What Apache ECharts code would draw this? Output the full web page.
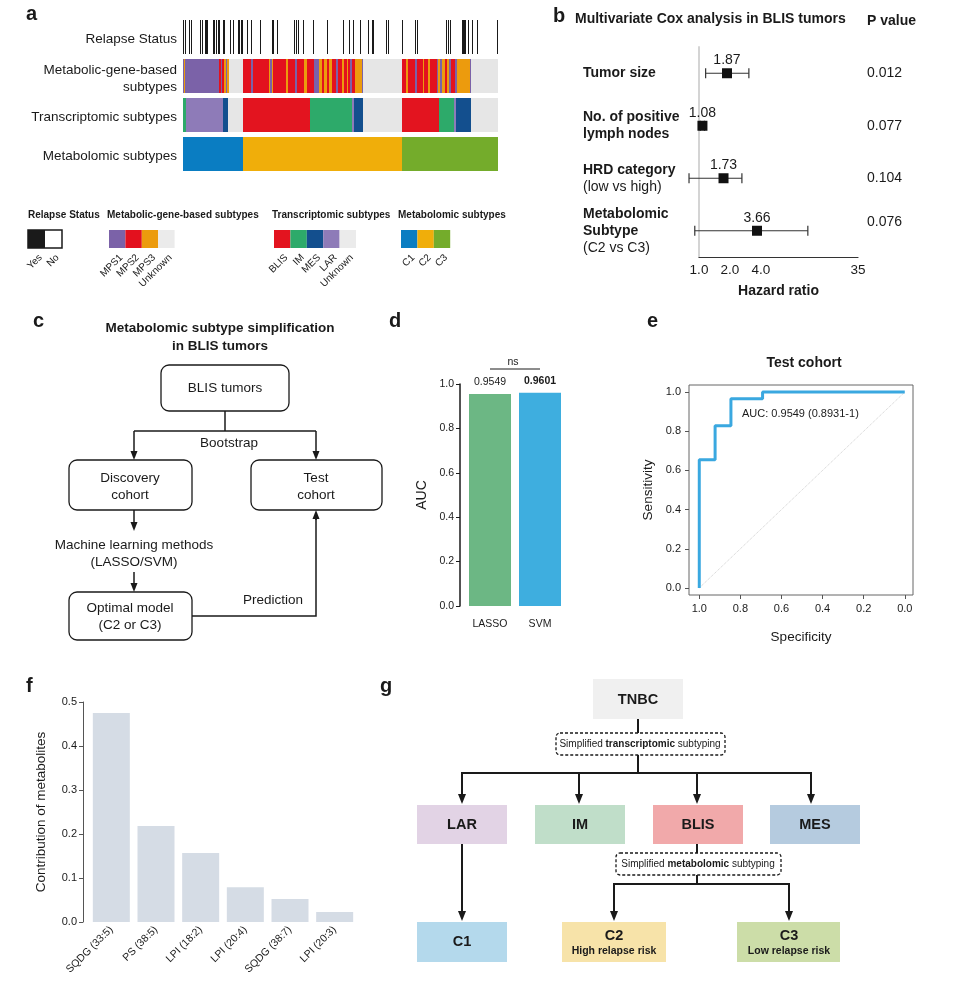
<!DOCTYPE html>
<html><head><meta charset="utf-8">
<script src="https://cdn.jsdelivr.net/npm/echarts@6/dist/echarts.min.js"></script>
<style>html,body{margin:0;padding:0;background:#fff}#c{width:956px;height:984px}</style>
</head><body><div id="c"></div>
<script>
// ================= DATA =================
// Panel a: samples ordered along x (approx. one unit per sample column)
const sampleCount = 315;
const heatRows = ['Relapse Status', 'Metabolic-gene-based\nsubtypes', 'Transcriptomic subtypes', 'Metabolomic subtypes'];
const relapseYes = [0,2,6,8,17,19,22,23,24,30,31,33,35,36,40,41,47,50,55,56,58,59,64,68,77,89,90,94,111,113,115,120,130,144,160,166,170,177,185,189,190,203,205,219,232,234,263,265,267,279,280,281,282,285,289,294,314];
const mgbRuns = [['MPS1',1],['MPS3',1],['MPS1',34],['MPS2',2],['MPS1',1],['MPS2',2],['MPS3',2],['MPS1',1],['MPS3',2],['Unknown',14],
  ['MPS2',8],['MPS1',2],['MPS2',16],['MPS3',1],['MPS1',2],['MPS3',1],['MPS2',13],['MPS3',2],['MPS2',7],['MPS1',2],['MPS2',7],['MPS3',3],['MPS2',7],['MPS1',5],['MPS3',3],['MPS2',2],['MPS3',3],['MPS2',2],['MPS3',3],['MPS2',4],['MPS1',2],['MPS2',4],['MPS3',2],['MPS2',3],['MPS3',1],['MPS2',2],['MPS1',2],['MPS2',3],['MPS3',7],['MPS1',1],['Unknown',39],
  ['MPS2',4],['MPS3',2],['MPS2',7],['MPS1',2],['MPS2',6],['MPS3',1],['MPS2',4],['MPS3',2],['MPS2',7],['MPS1',1],['MPS3',2],['MPS1',2],['MPS3',3],['MPS2',2],['MPS3',2],['MPS1',2],['MPS2',4],['MPS1',2],['MPS3',13],['MPS1',1],['Unknown',27]];
const transRuns = [['IM',3],['LAR',37],['MES',5],['Unknown',15],['BLIS',67],['IM',42],['LAR',2],['MES',9],['Unknown',39],['BLIS',37],['IM',15],['LAR',2],['MES',15],['Unknown',27]];
const metaRuns = [['C1',60],['C2',159],['C3',96]];
const legendGroups = [
  {title:'Relapse Status', keys:['Yes','No']},
  {title:'Metabolic-gene-based subtypes', keys:['MPS1','MPS2','MPS3','Unknown']},
  {title:'Transcriptomic subtypes', keys:['BLIS','IM','MES','LAR','Unknown']},
  {title:'Metabolomic subtypes', keys:['C1','C2','C3']}
];
// Panel b: multivariate Cox
const coxFactors = ['Tumor size', 'No. of positive\nlymph nodes', 'HRD category\n(low vs high)', 'Metabolomic\nSubtype\n(C2 vs C3)'];
const coxHR = [1.87, 1.08, 1.73, 3.66];
const coxLow = [1.16, 1.03, 0.80, 0.91];
const coxHigh = [3.05, 1.13, 2.61, 11.4];
const coxP = ['0.012', '0.077', '0.104', '0.076'];
const hrTicks = [1, 2, 4, 35];
// Panel d: AUC
const aucModels = ['LASSO', 'SVM'];
const aucValues = [0.9549, 0.9601];
// Panel e: ROC (test cohort)
const rocSpec = [1, 1, 0.923, 0.923, 0.846, 0.846, 0.692, 0.692, 0];
const rocSens = [0, 0.655, 0.655, 0.828, 0.828, 0.966, 0.966, 1, 1];
const rocTicks = [0, 0.2, 0.4, 0.6, 0.8, 1.0];
// Panel f: metabolite contributions
const metabolites = ['SQDG (33:5)', 'PS (38:5)', 'LPI (18:2)', 'LPI (20:4)', 'SQDG (38:7)', 'LPI (20:3)'];
const contrib = [0.475, 0.218, 0.157, 0.079, 0.052, 0.023];

// ================= STYLE =================
const FONT = '"Liberation Sans", Arial, Helvetica, sans-serif';
const INK = '#1a1a1a';
const COLORS = {Yes:'#1a1a1a', No:'#ffffff', MPS1:'#7B62A8', MPS2:'#E3111E', MPS3:'#EC9B0D', Unknown:'#E6E6E6',
  BLIS:'#E3141F', IM:'#2DAA6A', MES:'#134F8E', LAR:'#8E7BB8', C1:'#0A7DC2', C2:'#F0AE0A', C3:'#74AC2B'};

// ================= GRAPHIC HELPERS =================
const G = [];
function T(x, y, text, size, weight, align, extra, rot) {
  const el = {type:'text', x, y, z:20, style:Object.assign({text, fill:INK, fontSize:size, fontWeight:weight||'normal', fontFamily:FONT,
    align:align||'center', verticalAlign:'middle', textAlign:align||'center', textVerticalAlign:'middle'}, extra||{})};
  if (rot) el.rotation = rot;
  G.push(el);
}
function R(x, y, w, h, fill, stroke, lw, r, dash) {
  G.push({type:'rect', z:15, shape:{x, y, width:w, height:h, r:r||0}, style:{fill:fill||'none', stroke:stroke||null, lineWidth:lw||0, lineDash:dash||null}});
}
function L(points, lw) {
  G.push({type:'polyline', z:16, shape:{points}, style:{stroke:INK, lineWidth:lw||1.5, fill:null}});
}
function arrowV(x, y1, y2, lw, hw, hh) { // vertical arrow from y1 to y2 (head at y2)
  const dir = y2 > y1 ? 1 : -1;
  L([[x, y1], [x, y2 - dir*hh]], lw);
  G.push({type:'polygon', z:16, shape:{points:[[x-hw/2, y2-dir*hh],[x+hw/2, y2-dir*hh],[x, y2]]}, style:{fill:INK}});
}

// Panel letters
T(26, 14, 'a', 20, 'bold', 'left');
T(553, 16, 'b', 20, 'bold', 'left');
T(33, 321, 'c', 20, 'bold', 'left');
T(389, 321, 'd', 20, 'bold', 'left');
T(647, 321, 'e', 20, 'bold', 'left');
T(26, 686, 'f', 20, 'bold', 'left');
T(380, 686, 'g', 20, 'bold', 'left');

// Panel a legend
const legX = [28, 107, 272, 398];
const swX = [28, 109, 274, 401];
legendGroups.forEach((g, gi) => {
  T(legX[gi], 215, g.title, 10, 'bold', 'left');
  const w = gi === 0 ? 17 : 16.4;
  g.keys.forEach((k, i) => {
    const x = swX[gi] + i*w;
    R(x, 230, w, 18, COLORS[k] === '#E6E6E6' ? '#EBEBEB' : COLORS[k]);
    T(x + w/2 + 4, 256, k, 10, 'normal', 'right', null, Math.PI/4);
  });
  if (gi === 0) R(28, 230, 34, 18, 'none', INK, 1.5);
});

// Panel b texts
T(575, 19, 'Multivariate Cox analysis in BLIS tumors', 14, 'bold', 'left');
T(867, 21, 'P value', 14, 'bold', 'left');

// Panel c flowchart
T(220, 328, 'Metabolomic subtype simplification', 13.5, 'bold');
T(220, 346, 'in BLIS tumors', 13.5, 'bold');
R(161, 365, 128, 46, '#fff', INK, 1.3, 8); T(225, 388, 'BLIS tumors', 13.5);
L([[225, 411], [225, 431]]); L([[134, 431], [316, 431]]);
arrowV(134, 431, 460, 1.5, 7, 9); arrowV(316, 431, 460, 1.5, 7, 9);
T(229, 443, 'Bootstrap', 13.5);
R(69, 460, 123, 50, '#fff', INK, 1.3, 8); T(130, 478, 'Discovery', 13.5); T(130, 495, 'cohort', 13.5);
R(251, 460, 131, 50, '#fff', INK, 1.3, 8); T(316, 478, 'Test', 13.5); T(316, 495, 'cohort', 13.5);
arrowV(134, 510, 531, 1.5, 7, 9);
T(134, 545, 'Machine learning methods', 13.5); T(134, 562, '(LASSO/SVM)', 13.5);
arrowV(134, 572, 592, 1.5, 7, 9);
R(69, 592, 123, 48, '#fff', INK, 1.3, 8); T(130, 608, 'Optimal model', 13.5); T(130, 625, '(C2 or C3)', 13.5);
L([[192, 616], [316, 616], [316, 519]]);
arrowV(316, 520, 510, 1.5, 7, 9);
T(273, 600, 'Prediction', 13.5);

// Panel d annotations
T(513, 362, 'ns', 10.5);
L([[490, 369], [540, 369]], 1);

// Panel e annotations
T(804, 363, 'Test cohort', 14, 'bold');
T(742, 414, 'AUC: 0.9549 (0.8931-1)', 11, 'normal', 'left');

// Panel g flowchart
R(593, 679, 90, 40, '#F0F0F0'); T(638, 700, 'TNBC', 14.5, 'bold');
L([[638, 719], [638, 733]], 2);
R(556, 733, 169, 22, '#fff', INK, 1.3, 4, [3, 2]);
T(640, 744, 'Simplified {b|transcriptomic} subtyping', 10, 'normal', 'center', {rich:{b:{fontWeight:'bold', fontSize:10, fontFamily:FONT, fill:INK}}});
L([[638, 755], [638, 773]], 2); L([[461, 773], [812, 773]], 2);
[462, 579, 697, 811].forEach(x => arrowV(x, 773, 804, 2, 8, 10));
const gBoxes = [['LAR', 417, '#E2D3E5'], ['IM', 535, '#C0DEC9'], ['BLIS', 653, '#F1A9AA'], ['MES', 770, '#B5CBDF']];
gBoxes.forEach(([t, x, c]) => { R(x, 805, 90, 39, c); T(x + 45, 825, t, 14.5, 'bold'); });
arrowV(462, 844, 921, 2, 8, 10);
R(417, 922, 90, 40, '#B4D9EC'); T(462, 942, 'C1', 14.5, 'bold');
L([[697, 844], [697, 853]], 2);
R(616, 853, 165, 22, '#fff', INK, 1.3, 4, [3, 2]);
T(698, 864, 'Simplified {b|metabolomic} subtyping', 10, 'normal', 'center', {rich:{b:{fontWeight:'bold', fontSize:10, fontFamily:FONT, fill:INK}}});
L([[697, 875], [697, 884]], 2); L([[613, 884], [790, 884]], 2);
arrowV(614, 884, 921, 2, 8, 10); arrowV(789, 884, 921, 2, 8, 10);
R(562, 922, 104, 40, '#F7E3A9'); T(614, 936, 'C2', 14.5, 'bold'); T(614, 951, 'High relapse risk', 10.5, 'bold');
R(737, 922, 103, 40, '#CCDDA8'); T(789, 936, 'C3', 14.5, 'bold'); T(789, 951, 'Low relapse risk', 10.5, 'bold');

// ================= SERIES DATA BUILD =================
function runItems(runs, row) {
  let s = 0; const out = [];
  for (const [k, n] of runs) { out.push({value:[s, s + n, row], itemStyle:{color:COLORS[k]}}); s += n; }
  return out;
}
const heatData = []
  .concat(relapseYes.map(p => ({value:[p, p + 1, 0], itemStyle:{color:COLORS.Yes}})))
  .concat(runItems(mgbRuns, 1))
  .concat(runItems(transRuns, 2))
  .concat(runItems(metaRuns, 3));

const coxData = coxHR.map((v, i) => [coxLow[i], coxHigh[i], v, i]);
const maxAuc = Math.max.apply(null, aucValues);

const axLabel = {color:INK, fontFamily:FONT};

const option = {
  animation:false,
  backgroundColor:'#fff',
  textStyle:{fontFamily:FONT, color:INK},
  graphic:{elements:G},
  grid:[
    {left:183, top:20, width:315, height:156},
    {left:699, top:47, width:159, height:210},
    {left:465, top:384, width:100, height:222},
    {left:689, top:385, width:224, height:210, show:true, borderColor:'#666', borderWidth:1},
    {left:89, top:702, width:268, height:220}
  ],
  xAxis:[
    {gridIndex:0, type:'value', min:0, max:sampleCount, show:false},
    {gridIndex:1, type:'log', logBase:2, min:1, max:35,
      axisLine:{show:true, onZero:false, lineStyle:{color:'#333', width:1.2}}, axisTick:{show:false}, splitLine:{show:false},
      axisLabel:Object.assign({fontSize:13.5, margin:6, customValues:hrTicks, formatter:v => v < 10 ? Number(v).toFixed(1) : String(v)}, axLabel),
      name:'Hazard ratio', nameLocation:'middle', nameGap:27, nameTextStyle:{fontSize:14, fontWeight:'bold', color:INK, fontFamily:FONT}},
    {gridIndex:2, type:'category', data:aucModels, axisLine:{show:false}, axisTick:{show:false},
      axisLabel:Object.assign({fontSize:10.5, margin:13}, axLabel)},
    {gridIndex:3, type:'value', inverse:true, min:-0.04, max:1.05, splitLine:{show:false}, axisLine:{show:false, onZero:false},
      position:'bottom',
      axisTick:{show:true, length:4, customValues:rocTicks, lineStyle:{color:'#555'}},
      axisLabel:Object.assign({fontSize:11, margin:8, customValues:rocTicks, formatter:v => Number(v).toFixed(1)}, axLabel),
      name:'Specificity', nameLocation:'middle', nameGap:35, nameTextStyle:{fontSize:13.5, color:INK, fontFamily:FONT}},
    {gridIndex:4, type:'category', data:metabolites, axisLine:{show:false}, axisTick:{show:false},
      axisLabel:Object.assign({fontSize:10.5, margin:6, rotate:45, interval:0}, axLabel)}
  ],
  yAxis:[
    {gridIndex:0, type:'category', data:heatRows, inverse:true, axisLine:{show:false}, axisTick:{show:false},
      axisLabel:Object.assign({fontSize:13.5, margin:6, lineHeight:17}, axLabel)},
    {gridIndex:1, type:'category', data:coxFactors, inverse:true, position:'left',
      axisLine:{show:true, onZero:false, lineStyle:{color:'#d4d4d4', width:2}}, axisTick:{show:false},
      axisLabel:{align:'left', margin:116, color:INK,
        formatter:v => v.split('\n').map(s => s.charAt(0) === '(' ? '{n|' + s + '}' : '{b|' + s + '}').join('\n'),
        rich:{b:{fontSize:14, fontWeight:'bold', lineHeight:17, fontFamily:FONT, color:INK}, n:{fontSize:14, lineHeight:17, fontFamily:FONT, color:INK}}}},
    {gridIndex:1, type:'category', data:coxP, inverse:true, position:'right',
      axisLine:{show:false}, axisTick:{show:false},
      axisLabel:{align:'left', margin:9, color:INK,
        formatter:(v, i) => i === coxP.length - 1 ? '{p|' + v + '}\n{p| }' : '{p|' + v + '}',
        rich:{p:{fontSize:14, lineHeight:18, fontFamily:FONT, color:INK}}}},
    {gridIndex:2, type:'value', min:0, max:1, interval:0.2, offset:5, splitLine:{show:false},
      axisLine:{show:true, lineStyle:{color:INK, width:1.5}}, axisTick:{show:true, length:4, lineStyle:{color:INK}},
      axisLabel:Object.assign({fontSize:10.5, margin:6, formatter:v => v.toFixed(1)}, axLabel),
      name:'AUC', nameLocation:'middle', nameGap:31, nameTextStyle:{fontSize:14, color:INK, fontFamily:FONT}},
    {gridIndex:3, type:'value', min:-0.036, max:1.036, splitLine:{show:false}, axisLine:{show:false, onZero:false},
      position:'left',
      axisTick:{show:true, length:4, customValues:rocTicks, lineStyle:{color:'#555'}},
      axisLabel:Object.assign({fontSize:11, margin:8, customValues:rocTicks, formatter:v => Number(v).toFixed(1)}, axLabel),
      name:'Sensitivity', nameLocation:'middle', nameGap:34, nameTextStyle:{fontSize:13.5, color:INK, fontFamily:FONT}},
    {gridIndex:4, type:'value', min:0, max:0.5, interval:0.1, offset:6, splitLine:{show:false},
      axisLine:{show:true, lineStyle:{color:'#555', width:1}}, axisTick:{show:true, length:4, lineStyle:{color:'#555'}},
      axisLabel:Object.assign({fontSize:11, margin:6, formatter:v => v.toFixed(1)}, axLabel),
      name:'Contribution of metabolites', nameLocation:'middle', nameGap:35, nameTextStyle:{fontSize:13.5, color:INK, fontFamily:FONT}}
  ],
  series:[
    {type:'custom', xAxisIndex:0, yAxisIndex:0, encode:{x:[0, 1], y:2}, data:heatData,
      renderItem:(params, api) => {
        const p0 = api.coord([api.value(0), api.value(2)]);
        const p1 = api.coord([api.value(1), api.value(2)]);
        const band = api.size([0, 1])[1];
        return {type:'rect', shape:{x:p0[0], y:p0[1] - band/2, width:p1[0] - p0[0], height:band - 5}, style:{fill:api.visual('color')}};
      }},
    {type:'custom', xAxisIndex:1, yAxisIndex:1, encode:{x:[0, 1, 2], y:3}, data:coxData, clip:false, z:5,
      renderItem:(params, api) => {
        const row = api.value(3);
        const lo = api.coord([api.value(0), row]);
        const hi = api.coord([api.value(1), row]);
        const es = api.coord([api.value(2), row]);
        const y = es[1];
        const st = {stroke:'#333', lineWidth:1.2};
        return {type:'group', children:[
          {type:'line', shape:{x1:lo[0], y1:y, x2:hi[0], y2:y}, style:st},
          {type:'line', shape:{x1:lo[0], y1:y - 5, x2:lo[0], y2:y + 5}, style:st},
          {type:'line', shape:{x1:hi[0], y1:y - 5, x2:hi[0], y2:y + 5}, style:st},
          {type:'rect', shape:{x:es[0] - 5, y:y - 5, width:10, height:10}, style:{fill:'#111'}},
          {type:'text', style:{text:api.value(2).toFixed(2), x:es[0], y:y - 6, align:'center', verticalAlign:'bottom', fontSize:14, fontFamily:FONT, fill:INK}}
        ]};
      }},
    {type:'bar', xAxisIndex:2, yAxisIndex:3, barWidth:42,
      data:aucValues.map((v, i) => ({value:v, itemStyle:{color:i === 0 ? '#6CB784' : '#3EAEDF'},
        label:{fontWeight:v === maxAuc ? 'bold' : 'normal'}})),
      label:{show:true, position:'top', distance:6, fontSize:10.5, color:INK, fontFamily:FONT, formatter:p => p.value.toFixed(4)}},
    {type:'line', xAxisIndex:3, yAxisIndex:4, data:[[1, 0], [0, 1]], symbol:'none', silent:true,
      lineStyle:{color:'#cfcfcf', width:1, type:'dotted'}},
    {type:'line', xAxisIndex:3, yAxisIndex:4, data:rocSpec.map((s, i) => [s, rocSens[i]]), symbol:'none',
      lineStyle:{color:'#3AA8E0', width:3}},
    {type:'bar', xAxisIndex:4, yAxisIndex:5, barWidth:37, data:contrib, itemStyle:{color:'#D5DCE5'}}
  ]
};

const chart = echarts.init(document.getElementById('c'), null, {renderer:'canvas'});
chart.setOption(option);
</script>
</body></html>
